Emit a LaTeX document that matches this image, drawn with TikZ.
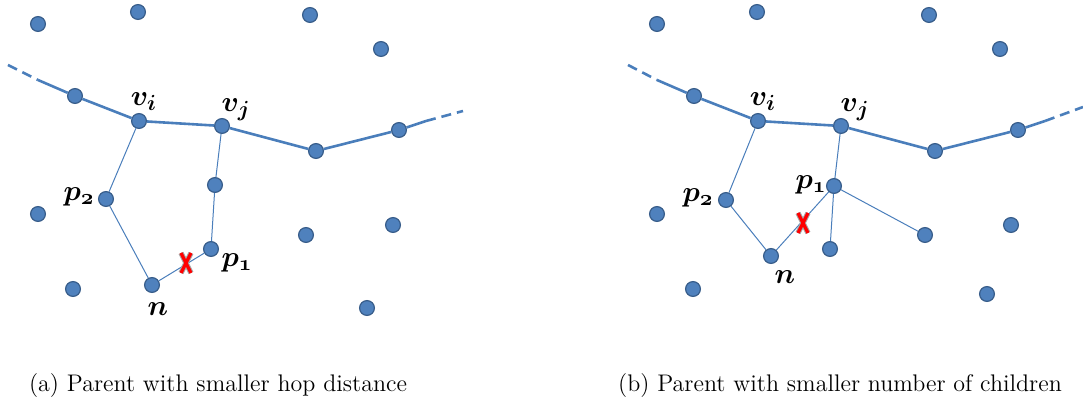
\documentclass[tikz,border=0pt]{standalone}
\begin{document}
\begin{tikzpicture}[x=0.5pt,y=-0.5pt,
  dot/.style={circle,draw=dotedge,fill=dotfill,line width=0.6pt,inner sep=0pt,minimum size=7.4pt},
  thickpath/.style={draw=linecol,line width=1.3pt},
  dashpath/.style={draw=linecol,line width=1.3pt,dash pattern=on 5pt off 3pt},
  thinline/.style={draw=linecol,line width=0.5pt},
  lbl/.style={font=\fontsize{15}{18}\selectfont\boldmath,inner sep=0pt},
  captext/.style={font=\fontsize{12}{14}\selectfont,inner sep=0pt},
  xmarkgray/.style={draw=gray!70,line width=2.6pt},
  xmarkred/.style={draw=red,line width=1.6pt}]
\definecolor{dotfill}{HTML}{4F81BD}
\definecolor{dotedge}{HTML}{385D8A}
\definecolor{linecol}{HTML}{4A7EBB}
\useasboundingbox (0,0) rectangle (1083,400);

% ---------- panel (a) ----------
\coordinate (aS) at (8,65);
\coordinate (aS2) at (38,80);
\coordinate (aE2) at (426,121);
\coordinate (aE) at (463,111);
\node[dot] (a1) at (38,24) {};
\node[dot] (a2) at (138,12) {};
\node[dot] (a3) at (310,15) {};
\node[dot] (a4) at (381,49) {};
\node[dot] (a5) at (75,96) {};
\node[dot] (avi) at (139,121) {};
\node[dot] (avj) at (222,126) {};
\node[dot] (a6) at (316,151) {};
\node[dot] (a7) at (399,130) {};
\node[dot] (ap2) at (106,199) {};
\node[dot] (am) at (215,185) {};
\node[dot] (ap1) at (211,249) {};
\node[dot] (an) at (152,285) {};
\node[dot] (a8) at (73,289) {};
\node[dot] (a9) at (38,214) {};
\node[dot] (a10) at (306,235) {};
\node[dot] (a11) at (393,225) {};
\node[dot] (a12) at (367,308) {};

\path[dashpath] (aS) -- (aS2);
\path[thickpath] (aS2) -- (a5) -- (avi) -- (avj) -- (a6) -- (a7) -- (aE2);
\path[dashpath] (aE2) -- (aE);
\path[thinline] (avi) -- (ap2) -- (an) -- (ap1) -- (am) -- (avj);

\node[lbl] (lvi) at (144,102) {$v_i$};
\node[lbl] (lvj) at (236,110) {$v_j$};
\node[lbl] (lp2) at (79,197) {$p_{\mathnormal{2}}$};
\node[lbl] (lp1) at (237,263) {$p_{\mathnormal{1}}$};
\node[lbl] (ln) at (158,309) {$n$};

\coordinate (aX) at (186,263);
\path[xmarkgray] ([shift={(-5,-10)}]aX) -- ([shift={(5,10)}]aX) ([shift={(5,-10)}]aX) -- ([shift={(-5,10)}]aX);
\path[xmarkred] ([shift={(-5,-10)}]aX) -- ([shift={(5,10)}]aX) ([shift={(5,-10)}]aX) -- ([shift={(-5,10)}]aX);

\node[captext] (capa) at (218,386) {(a) Parent with smaller hop distance};

% ---------- panel (b) ----------
\coordinate (bS) at (628,65);
\coordinate (bS2) at (657,80);
\coordinate (bE2) at (1045,121);
\coordinate (bE) at (1083,107);
\node[dot] (b1) at (657,24) {};
\node[dot] (b2) at (757,12) {};
\node[dot] (b3) at (929,15) {};
\node[dot] (b4) at (1000,49) {};
\node[dot] (b5) at (694,96) {};
\node[dot] (bvi) at (758,121) {};
\node[dot] (bvj) at (841,126) {};
\node[dot] (b6) at (935,151) {};
\node[dot] (b7) at (1018,130) {};
\node[dot] (bp2) at (726,200) {};
\node[dot] (bp1) at (834,186) {};
\node[dot] (bn) at (771,256) {};
\node[dot] (bc1) at (830,249) {};
\node[dot] (bc2) at (925,235) {};
\node[dot] (b8) at (693,289) {};
\node[dot] (b9) at (657,214) {};
\node[dot] (b10) at (1011,225) {};
\node[dot] (b11) at (987,294) {};

\path[dashpath] (bS) -- (bS2);
\path[thickpath] (bS2) -- (b5) -- (bvi) -- (bvj) -- (b6) -- (b7) -- (bE2);
\path[dashpath] (bE2) -- (bE);
\path[thinline] (bvi) -- (bp2) -- (bn) -- (bp1) -- (bvj);
\path[thinline] (bp1) -- (bc1);
\path[thinline] (bp1) -- (bc2);

\node[lbl] (mvi) at (763,102) {$v_i$};
\node[lbl] (mvj) at (855,110) {$v_j$};
\node[lbl] (mp2) at (698,198) {$p_{\mathnormal{2}}$};
\node[lbl] (mp1) at (811,185) {$p_{\mathnormal{1}}$};
\node[lbl] (mn) at (785,277) {$n$};

\coordinate (bX) at (803,223);
\path[xmarkgray] ([shift={(-5,-10)}]bX) -- ([shift={(5,10)}]bX) ([shift={(5,-10)}]bX) -- ([shift={(-5,10)}]bX);
\path[xmarkred] ([shift={(-5,-10)}]bX) -- ([shift={(5,10)}]bX) ([shift={(5,-10)}]bX) -- ([shift={(-5,10)}]bX);

\node[captext] (capb) at (840,386) {(b) Parent with smaller number of children};
\end{tikzpicture}
\end{document}
